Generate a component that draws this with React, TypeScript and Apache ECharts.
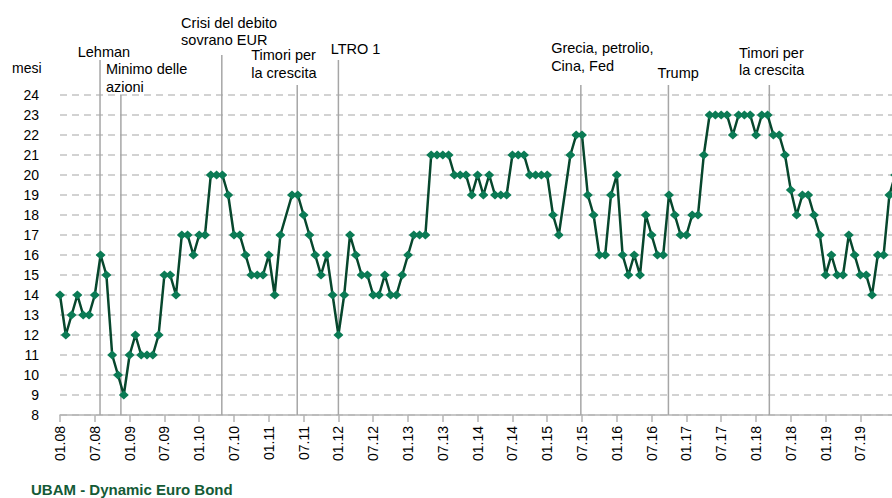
import React, { useEffect, useRef } from "react";
import * as echarts from "echarts";

// x tick labels, one every 6 months starting at 01.08
const tickLabels = [
  "01.08", "07.08", "01.09", "07.09", "01.10", "07.10", "01.11", "07.11",
  "01.12", "07.12", "01.13", "07.13", "01.14", "07.14", "01.15", "07.15",
  "01.16", "07.16", "01.17", "07.17", "01.18", "07.18", "01.19", "07.19",
];

// monthly duration in months, from 01.08 (null = no observation)
const duration: (number | null)[] = [
  14, 12, 13, 14, 13, 13, 14, 16, 15, 11, 10, 9,
  11, 12, 11, 11, 11, 12, 15, 15, 14, 17, 17, 16,
  17, 17, 20, 20, 20, 19, 17, 17, 16, 15, 15, 15,
  16, 14, 17, null, 19, 19, 18, 17, 16, 15, 16, 14,
  12, 14, 17, 16, 15, 15, 14, 14, 15, 14, 14, 15,
  16, 17, 17, 17, 21, 21, 21, 21, 20, 20, 20, 19,
  20, 19, 20, 19, 19, 19, 21, 21, 21, 20, 20, 20,
  20, 18, 17, null, 21, 22, 22, 19, 18, 16, 16, 19,
  20, 16, 15, 16, 15, 18, 17, 16, 16, 19, 18, 17,
  17, 18, 18, 21, 23, 23, 23, 23, 22, 23, 23, 23,
  22, 23, 23, 22, 22, 21, 19.25, 18, 19, 19, 18, 17,
  15, 16, 15, 15, 17, 16, 15, 15, 14, 16, 16, 19,
  20,
];

// event annotations: label lines, position (month index) and top of marker line (axis units)
const eventLabels = [
  ["Lehman"],
  ["Minimo delle", "azioni"],
  ["Crisi del debito", "sovrano EUR"],
  ["Timori per", "la crescita"],
  ["LTRO 1"],
  ["Grecia, petrolio,", "Cina, Fed"],
  ["Trump"],
  ["Timori per", "la crescita"],
];
const eventMonths = [6.9, 10.5, 27.9, 40.9, 48, 89.8, 104.9, 122.3];
const eventTops = [25.75, 24, 26, 24.5, 25.75, 24.5, 24.5, 24.5];

// layout of the labels relative to the top of each line (pixels)
const labelDx = [-22.3, -15, -40.7, -46, -7.7, -29.7, -11, -30.3];
const labelLastDy = [-8.3, -8.3, -15, -12.3, -10.7, -19.3, -12.3, -15];

const FONT = 'Arial, "Liberation Sans", sans-serif';
const MONTH_PX = 5.8;
const X_MAX = 145;
const LEFT = 60;
const CHART_W = Math.ceil(LEFT + X_MAX * MONTH_PX); // chart runs past the visible 892px

export default function App() {
  const ref = useRef<HTMLDivElement>(null);

  useEffect(() => {
    if (!ref.current) return;
    const chart = echarts.init(ref.current, undefined, { renderer: "svg" });

    chart.setOption({
      animation: false,
      textStyle: { fontFamily: FONT },
      grid: { left: LEFT, top: 95, width: X_MAX * MONTH_PX, height: 320 },
      xAxis: {
        type: "value",
        min: 0,
        max: X_MAX,
        interval: 6,
        axisLine: { show: true, lineStyle: { color: "#b4b4b4", width: 1.5 } },
        axisTick: { show: true, length: 7, lineStyle: { color: "#b4b4b4", width: 1.5 } },
        splitLine: { show: false },
        axisLabel: {
          rotate: 90,
          margin: 11,
          fontSize: 14,
          color: "#000",
          fontFamily: FONT,
          formatter: (v: number) => {
            const k = Math.round(v / 6);
            return Math.abs(v - k * 6) < 1e-6 && tickLabels[k] ? tickLabels[k] : "";
          },
        },
      },
      yAxis: {
        type: "value",
        min: 8,
        max: 24,
        interval: 1,
        axisLine: { show: false },
        axisTick: { show: false },
        splitLine: { lineStyle: { type: [7, 5], color: "#c4c4c4", width: 1.5 } },
        axisLabel: { fontSize: 14, color: "#000", margin: 21, fontFamily: FONT },
      },
      series: [
        {
          type: "line",
          data: duration.map((v, i) => [i, v === null ? "-" : v]),
          connectNulls: true,
          symbol: "diamond",
          symbolSize: [10, 9],
          showAllSymbol: true,
          itemStyle: { color: "#0b7b55" },
          lineStyle: { color: "#07472d", width: 2.5 },
          z: 3,
        },
      ],
    });

    const graphics: any[] = [];
    const axisY = chart.convertToPixel({ gridIndex: 0 }, [0, 8])[1];
    eventMonths.forEach((m, k) => {
      const [px, topPx] = chart.convertToPixel({ gridIndex: 0 }, [m, eventTops[k]]);
      graphics.push({
        type: "line",
        z: 1,
        shape: { x1: px, y1: topPx, x2: px, y2: axisY },
        style: { stroke: "#a6a6a6", lineWidth: 1.5 },
      });
      const lines = eventLabels[k];
      lines.forEach((t, j) => {
        graphics.push({
          type: "text",
          z: 5,
          x: px + labelDx[k],
          y: topPx + labelLastDy[k] - (lines.length - 1 - j) * 17.5,
          style: {
            text: t,
            fill: "#000",
            font: `14.5px ${FONT}`,
            textAlign: "left",
            textVerticalAlign: "middle",
          },
        });
      });
    });
    graphics.push({
      type: "text",
      x: 12,
      y: 68,
      style: { text: "mesi", fill: "#000", font: `14px ${FONT}`, textAlign: "left", textVerticalAlign: "middle" },
    });
    graphics.push({
      type: "text",
      x: 31,
      y: 489,
      style: {
        text: "UBAM - Dynamic Euro Bond",
        fill: "#145a36",
        font: `bold 15px ${FONT}`,
        textAlign: "left",
        textVerticalAlign: "middle",
      },
    });
    chart.setOption({ graphic: graphics });

    return () => chart.dispose();
  }, []);

  return (
    <div
      style={{ position: "absolute", left: 0, top: 0, width: 892, height: 498, overflow: "hidden", background: "#fff" }}
    >
      <div ref={ref} style={{ width: CHART_W, height: 498 }} />
    </div>
  );
}
